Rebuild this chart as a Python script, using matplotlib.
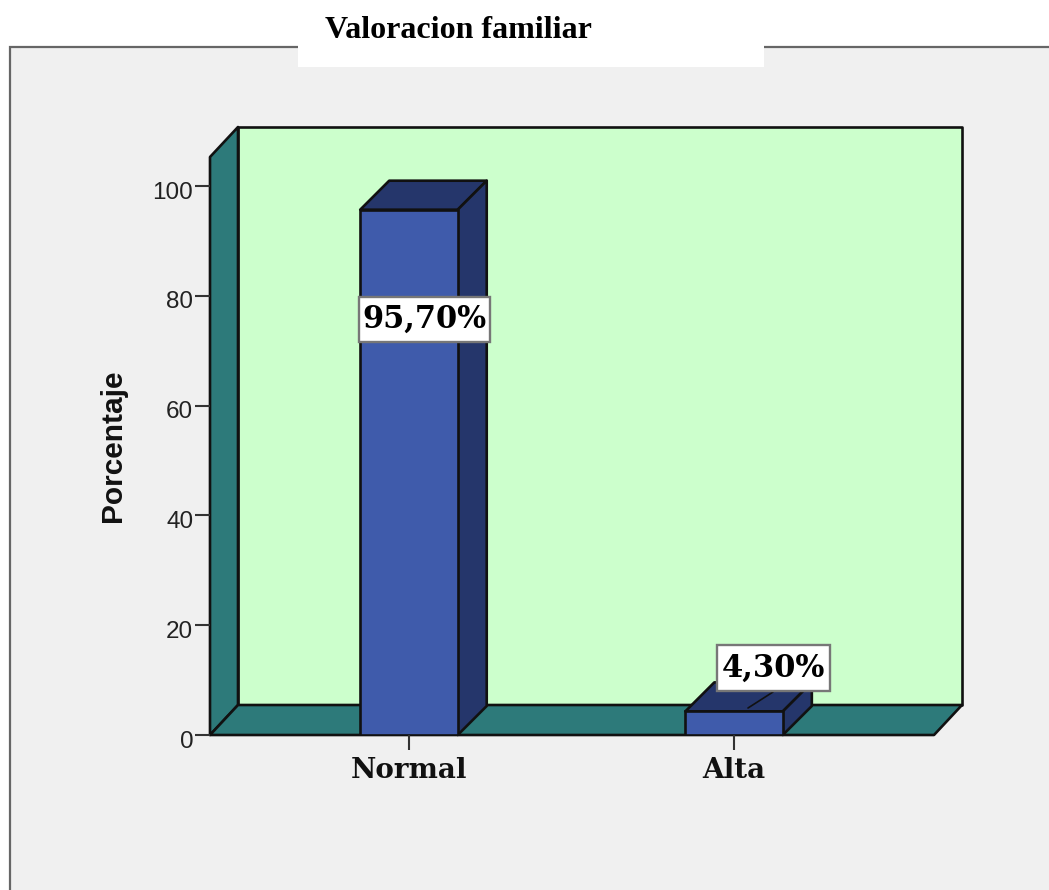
import matplotlib
matplotlib.use("Agg")
import matplotlib.pyplot as plt
from matplotlib.patches import Polygon, Rectangle
from matplotlib.transforms import Affine2D

categories = ["Normal", "Alta"]
values = [95.7, 4.3]
value_labels = ["95,70%", "4,30%"]
y_ticks = [0, 20, 40, 60, 80, 100]

W, H = 1049, 890
GREEN = "#CCFFCC"
TEAL = "#2D7A7A"
BLUE = "#3F5BAB"
DARK = "#25366B"
EDGE = "#111111"

fig = plt.figure(figsize=(W / 100, H / 100), dpi=100, facecolor="white")
# pixel coordinates of the picture, y going down
px = Affine2D().scale(1, -1).translate(0, H)

# grey panel and the white box behind the title
fig.add_artist(Rectangle((10, 47), 1060, 860, transform=px, fc="#F0F0F0", ec="#666666", lw=1.6))
fig.add_artist(Rectangle((298, 0), 466, 67, transform=px, fc="white", ec="none"))
fig.text(325 / W, 1 - 38 / H, "Valoracion familiar", family="Liberation Serif",
         fontweight="bold", fontsize=23, color="black")

ax = fig.add_axes([210 / W, 1 - 735 / H, 724 / W, 578 / H])
ax.set_xlim(-0.612, 1.615)
ax.set_ylim(0, 105.3)
ax.patch.set_visible(False)
for s in ax.spines.values():
    s.set_visible(False)

x0, x1 = ax.get_xlim()
y1 = ax.get_ylim()[1]
wall_dx, wall_dy = 28, 30
bar_dx, bar_dy = 29, 29


def depth_poly(front, back, color, dx, dy, z):
    """polygon with front points in data coords and back points pushed back by dx, dy pixels"""
    a = ax.transData.transform(front)
    b = ax.transData.transform(back) + [dx, dy]
    pts = list(map(tuple, a)) + list(map(tuple, b))
    p = Polygon(pts, closed=True, transform=None, fc=color, ec=EDGE, lw=1.9,
                joinstyle="round", zorder=z, clip_on=False)
    fig.add_artist(p)
    return p


# back wall, side wall, floor
depth_poly([], [(x0, 0), (x0, y1), (x1, y1), (x1, 0)], GREEN, wall_dx, wall_dy, 1)
depth_poly([(x0, 0), (x0, y1)], [(x0, y1), (x0, 0)], TEAL, wall_dx, wall_dy, 2)
depth_poly([(x0, 0), (x1, 0)], [(x1, 0), (x0, 0)], TEAL, wall_dx, wall_dy, 2)

# bars
bar_w = 0.30
for i, v in enumerate(values):
    l, r = i - bar_w / 2, i + bar_w / 2
    depth_poly([(l, v), (r, v)], [(r, v), (l, v)], DARK, bar_dx, bar_dy, 3)
    depth_poly([(r, 0), (r, v)], [(r, v), (r, 0)], DARK, bar_dx, bar_dy, 3)
ax.set_zorder(4)
ax.bar(range(len(values)), values, width=bar_w, color=BLUE, edgecolor=EDGE, linewidth=1.9, zorder=3)

# leader line of the small bar label
ax.annotate("", xy=(748, H - 708), xytext=(773, H - 692), xycoords="figure pixels",
            textcoords="figure pixels",
            arrowprops=dict(arrowstyle="-", color=EDGE, lw=1.2, shrinkA=0, shrinkB=0))

# value labels with their white boxes
label_boxes = [(359, 297, 131, 45), (717, 645, 113, 46)]
for txt, (bx, by, bw, bh) in zip(value_labels, label_boxes):
    ax.add_artist(Rectangle((bx, by), bw, bh, transform=px, fc="white", ec="#777777", lw=1.7,
                            zorder=6, clip_on=False))
    ax.text((bx + bw / 2) / W, 1 - (by + bh / 2) / H, txt, transform=fig.transFigure,
            ha="center", va="center", family="DejaVu Serif", fontweight="bold", fontsize=22,
            color="black", zorder=7)

ax.set_yticks(y_ticks)
ax.set_xticks(range(len(categories)))
ax.set_xticklabels(categories, family="DejaVu Serif", fontweight="bold", fontsize=20, color="#111111")
ax.tick_params(axis="y", length=10.5, width=1.5, color="#333333", pad=1.5, labelsize=17.5,
               labelcolor="#222222")
ax.tick_params(axis="x", length=11, width=1.5, color="#333333", pad=5)
for t in ax.get_yticklabels():
    t.set_family("Liberation Sans")
    t.set_transform(t.get_transform() + Affine2D().translate(0, -4))

fig.text(113 / W, 1 - 446 / H, "Porcentaje", rotation=90, ha="center", va="center",
         family="Liberation Sans", fontweight="bold", fontsize=21.5, color="#111111")

plt.savefig("out.png", dpi=100)
